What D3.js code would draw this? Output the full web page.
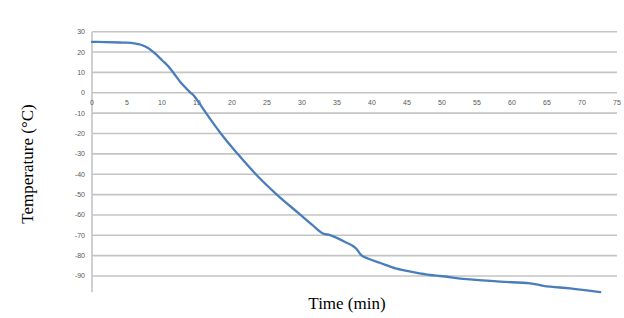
<!DOCTYPE html>
<html>
<head>
<meta charset="utf-8">
<script src="https://cdn.jsdelivr.net/npm/d3@7"></script>
<style>
html,body{margin:0;padding:0;background:#fff;}
svg{display:block;}
</style>
</head>
<body>
<svg id="chart" width="624" height="318"></svg>
<script>
// Data
const timeMin = [0, 2, 4, 5, 6, 7, 8, 9, 10, 11, 11.6, 12.8, 14.1, 14.5, 15, 16.3, 18.4, 20.8, 23.4, 26.4, 29.8, 31.5, 33, 34, 36, 37.7, 38.5, 39.5, 41.1, 43.5, 45.9, 48.3, 49.7, 54, 58.3, 62.6, 64.5, 68.3, 72.6];
const tempC   = [25, 24.9, 24.7, 24.6, 24.3, 23.6, 22.0, 19.3, 16, 12.6, 10, 4.5, 0, -1.2, -3.5, -10, -20, -30, -40, -50, -60, -65, -69.1, -69.9, -73, -76.4, -79.9, -81.5, -83.5, -86.4, -88.1, -89.5, -90, -91.7, -92.8, -93.6, -94.8, -96.1, -97.9];
const xTickValues = [0, 5, 10, 15, 20, 25, 30, 35, 40, 45, 50, 55, 60, 65, 70, 75];
const yTickValues = [30, 20, 10, 0, -10, -20, -30, -40, -50, -60, -70, -80, -90];
const xTitle = "Time (min)";
const yTitle = "Temperature (°C)";

const svg = d3.select("#chart");
const x = d3.scaleLinear().domain([0, 75]).range([92, 617]);
const y = d3.scaleLinear().domain([-98, 30]).range([292.3, 31.7]);

// Horizontal gridlines (includes 0 line acting as x axis)
svg.append("g").selectAll("line").data(yTickValues).join("line")
  .attr("x1", x(0)).attr("x2", x(75))
  .attr("y1", d => y(d)).attr("y2", d => y(d))
  .attr("stroke", "#c4c4c4").attr("stroke-width", 1.6);

// Vertical axis line
svg.append("line")
  .attr("x1", x(0)).attr("x2", x(0))
  .attr("y1", y(30)).attr("y2", y(-98))
  .attr("stroke", "#c4c4c4").attr("stroke-width", 1.6);

// Y tick labels
svg.append("g").selectAll("text").data(yTickValues).join("text")
  .attr("x", x(0) - 7).attr("y", d => y(d)).attr("dy", "0.35em")
  .attr("text-anchor", "end")
  .attr("font-family", "Liberation Sans, Arial, sans-serif")
  .attr("font-size", 7).attr("fill", "#595959")
  .text(d => d);

// X tick labels along the 0 line
svg.append("g").selectAll("text").data(xTickValues).join("text")
  .attr("x", d => x(d)).attr("y", y(0) + 12.5)
  .attr("text-anchor", "middle")
  .attr("font-family", "Liberation Sans, Arial, sans-serif")
  .attr("font-size", 7).attr("fill", "#595959")
  .text(d => d);

// Data line
const pts = timeMin.map((t, i) => [t, tempC[i]]);
svg.append("path").datum(pts)
  .attr("fill", "none").attr("stroke", "#4a7ebb").attr("stroke-width", 2.3)
  .attr("stroke-linejoin", "round").attr("stroke-linecap", "round")
  .attr("d", d3.line().x(d => x(d[0])).y(d => y(d[1])).curve(d3.curveMonotoneX));

// Axis titles
svg.append("text")
  .attr("x", 347).attr("y", 309)
  .attr("text-anchor", "middle")
  .attr("font-family", "Liberation Serif, Times New Roman, serif")
  .attr("font-size", 17).attr("fill", "#000")
  .text(xTitle);

svg.append("text")
  .attr("transform", "translate(33,164) rotate(-90)")
  .attr("text-anchor", "middle")
  .attr("font-family", "Liberation Serif, Times New Roman, serif")
  .attr("font-size", 17).attr("fill", "#000")
  .text(yTitle);
</script>
</body>
</html>
